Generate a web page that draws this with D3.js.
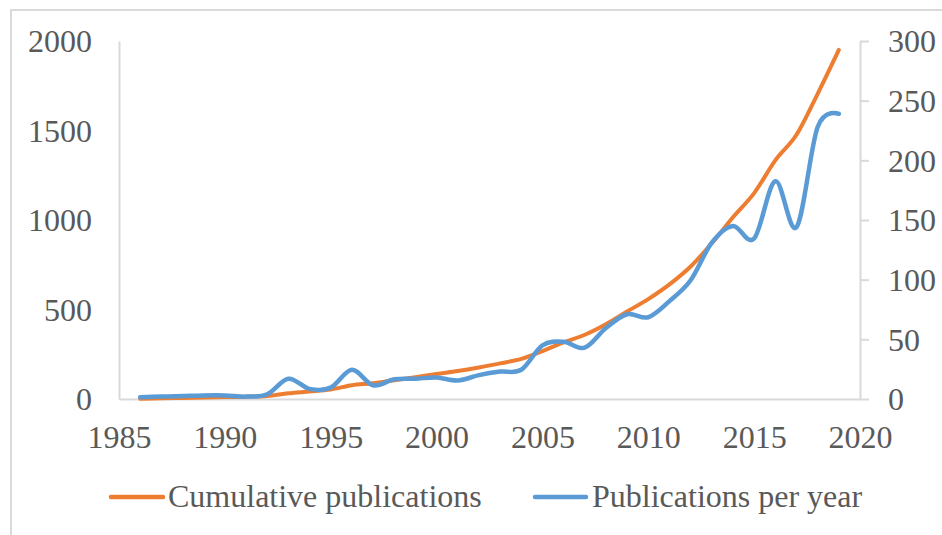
<!DOCTYPE html>
<html>
<head>
<meta charset="utf-8">
<script src="https://cdn.jsdelivr.net/npm/d3@7"></script>
<style>
  html, body { margin: 0; padding: 0; background: #fff; }
  svg { display: block; }
  text { font-family: "Liberation Serif", "Times New Roman", serif; }
</style>
</head>
<body>
<svg id="chart" width="942" height="535"></svg>
<script>
// ---- data ----
const years = [1986,1987,1988,1989,1990,1991,1992,1993,1994,1995,1996,1997,1998,1999,2000,2001,2002,2003,2004,2005,2006,2007,2008,2009,2010,2011,2012,2013,2014,2015,2016,2017,2018,2019];
const cumulative = [2,4,6,8,11,13,17,32,42,53,77,88,105,122,140,156,176,199,224,268,316,359,418,489,558,640,740,870,1015,1150,1333,1476,1705,1950];
const perYear = [1.5,2,2.5,3,3,2,4,17,8.5,9.5,24.5,11.5,16.5,17,18,15.5,20,23,24.5,45,48,43,59.5,71,68.5,82,99.5,131,145,134.5,182.5,144,228,239];
const xTicks = [1985,1990,1995,2000,2005,2010,2015,2020];
const leftTicks = [0,500,1000,1500,2000];
const rightTicks = [0,50,100,150,200,250,300];
const seriesNames = ["Cumulative publications", "Publications per year"];
const seriesColors = ["#ED7D31", "#5B9BD5"];

// ---- layout ----
const svg = d3.select("#chart");
const plot = {left: 119, right: 860, top: 41, bottom: 399};
const textColor = "#595959";
const axisColor = "#d9d9d9";
const fontSize = 32;

// outer border
svg.append("rect")
  .attr("x", 11).attr("y", 10)
  .attr("width", 960).attr("height", 560)
  .attr("fill", "none").attr("stroke", "#d9d9d9").attr("stroke-width", 2);

const x = d3.scaleLinear().domain([1985, 2020]).range([plot.left, plot.right]);
const yL = d3.scaleLinear().domain([0, 2000]).range([plot.bottom, plot.top]);
const yR = d3.scaleLinear().domain([0, 300]).range([plot.bottom, plot.top]);

function styleAxis(g) {
  g.selectAll("path.domain").attr("stroke", axisColor).attr("stroke-width", 2);
  g.selectAll(".tick line").attr("stroke", axisColor).attr("stroke-width", 2);
  g.selectAll("text")
    .attr("fill", textColor)
    .style("font-family", '"Liberation Serif", "Times New Roman", serif')
    .style("font-size", fontSize + "px");
}

// left axis
const gL = svg.append("g")
  .attr("transform", `translate(${plot.left},0)`)
  .call(d3.axisLeft(yL).tickValues(leftTicks).tickSize(0).tickSizeOuter(0).tickPadding(27).tickFormat(d3.format("d")));
styleAxis(gL);
gL.selectAll("text").attr("dy", "0.34em");

// right axis
const gR = svg.append("g")
  .attr("transform", `translate(${plot.right},0)`)
  .call(d3.axisRight(yR).tickValues(rightTicks).tickSize(9).tickSizeOuter(0).tickPadding(19).tickFormat(d3.format("d")));
styleAxis(gR);
gR.selectAll("text").attr("dy", "0.34em");

// bottom axis
const gB = svg.append("g")
  .attr("transform", `translate(0,${plot.bottom})`)
  .call(d3.axisBottom(x).tickValues(xTicks).tickSize(0).tickSizeOuter(0).tickFormat(d3.format("d")));
styleAxis(gB);
gB.selectAll("text").attr("y", 49).attr("dy", 0);

// lines
const lineCum = d3.line()
  .x((d, i) => x(years[i]))
  .y(d => yL(d))
  .curve(d3.curveCardinal.tension(0));
const linePer = d3.line()
  .x((d, i) => x(years[i]))
  .y(d => yR(d))
  .curve(d3.curveCardinal.tension(0));

svg.append("path")
  .attr("d", lineCum(cumulative))
  .attr("fill", "none")
  .attr("stroke", seriesColors[0])
  .attr("stroke-width", 4)
  .attr("stroke-linecap", "round")
  .attr("stroke-linejoin", "round");

svg.append("path")
  .attr("d", linePer(perYear))
  .attr("fill", "none")
  .attr("stroke", seriesColors[1])
  .attr("stroke-width", 4.5)
  .attr("stroke-linecap", "round")
  .attr("stroke-linejoin", "round");

// legend
const legendItems = [
  {x1: 111, x2: 163, tx: 168},
  {x1: 535, x2: 586, tx: 592}
];
const legendY = 497;
legendItems.forEach((it, i) => {
  svg.append("line")
    .attr("x1", it.x1).attr("x2", it.x2)
    .attr("y1", legendY).attr("y2", legendY)
    .attr("stroke", seriesColors[i]).attr("stroke-width", 4.5)
    .attr("stroke-linecap", "round");
  svg.append("text")
    .attr("x", it.tx).attr("y", 507)
    .attr("fill", textColor)
    .style("font-size", fontSize + "px")
    .text(seriesNames[i]);
});
</script>
</body>
</html>
